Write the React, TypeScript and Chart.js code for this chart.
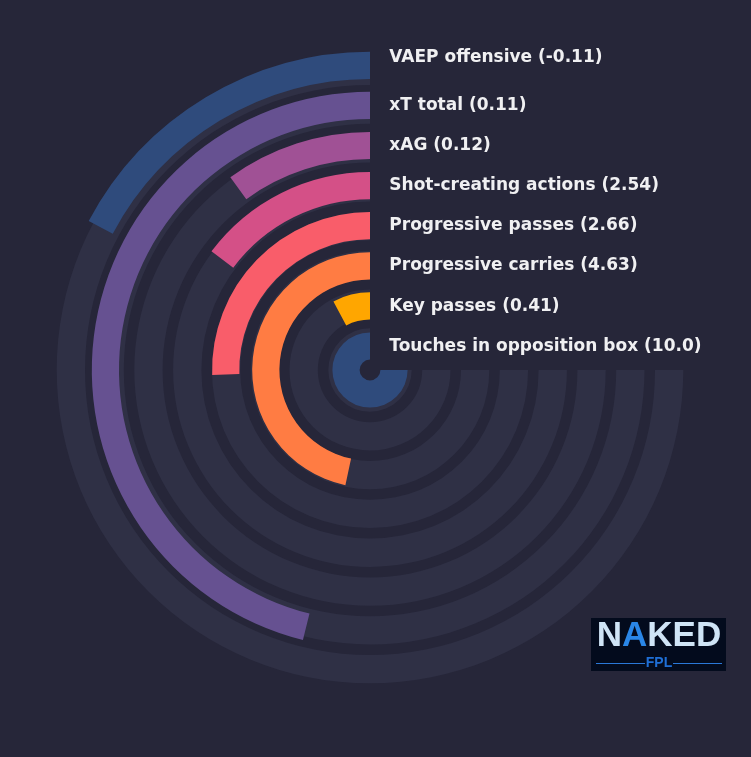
import React, { useEffect, useRef } from "react";
import { Chart, registerables } from "chart.js";

Chart.register(...registerables);

// ---- data ----
const metrics = [
  "VAEP offensive",
  "xT total",
  "xAG",
  "Shot-creating actions",
  "Progressive passes",
  "Progressive carries",
  "Key passes",
  "Touches in opposition box",
];
const rawValues = ["-0.11", "0.11", "0.12", "2.54", "2.66", "4.63", "0.41", "10.0"];
const percentiles = [23, 61.5, 13.3, 19.7, 34, 62.2, 10.4, 100];
const colors = ["#2f4b7c", "#665191", "#a05195", "#d45087", "#f95d6a", "#ff7c43", "#ffa600", "#2f4b7c"];

// ---- styling / geometry ----
const BG = "#262639";
const TRACK = "#2f3045";
const CLEAR = "rgba(0,0,0,0)";
const CANVAS = 700;
const OFFSET = 20; // canvas left/top => centre at 370,370
const TRACK_R = 313.3;
const TRACK_W = 28.3;
const TRACK_GAP = 10.5;
const BAR_R = 318.3;
const BAR_W = 27.2;
const BAR_GAP = 12.9;
const LABEL_SIZE = 17;
const LABEL_COLOR = "#f0f0f2";

const trackInner = TRACK_R - (metrics.length * TRACK_W + (metrics.length - 1) * TRACK_GAP);
const barInner = BAR_R - (metrics.length * BAR_W + (metrics.length - 1) * BAR_GAP);

function buildTrackDatasets() {
  const ds: any[] = [];
  metrics.forEach((_, i) => {
    if (i > 0) ds.push({ data: [1], backgroundColor: [CLEAR], borderWidth: 0, weight: TRACK_GAP });
    ds.push({ data: [1], backgroundColor: [TRACK], borderWidth: 0, weight: TRACK_W });
  });
  return ds;
}

function buildBarDatasets() {
  const ds: any[] = [];
  metrics.forEach((m, i) => {
    if (i > 0) ds.push({ label: "", data: [1], backgroundColor: [CLEAR], borderWidth: 0, weight: BAR_GAP });
    ds.push({
      label: m,
      data: [100 - percentiles[i], percentiles[i]],
      backgroundColor: [CLEAR, colors[i]],
      borderWidth: 0,
      weight: BAR_W,
    });
  });
  return ds;
}

const labelPlugin = {
  id: "ringLabels",
  afterDatasetsDraw(chart: any) {
    const ctx = chart.ctx;
    ctx.save();
    ctx.font = `bold ${LABEL_SIZE}px "DejaVu Sans"`;
    ctx.fillStyle = LABEL_COLOR;
    ctx.textAlign = "left";
    ctx.textBaseline = "alphabetic";
    metrics.forEach((m, i) => {
      const arc = chart.getDatasetMeta(i * 2).data[1];
      const { x, y, innerRadius, outerRadius } = arc.getProps(["x", "y", "innerRadius", "outerRadius"], true);
      const mid = (innerRadius + outerRadius) / 2;
      const capCenter = y - mid - 1.5 + (i === 0 ? -8 : 0);
      ctx.fillText(`${m} (${rawValues[i]})`, x + 19.3, capCenter + (LABEL_SIZE * 0.729) / 2);
    });
    ctx.restore();
  },
};

export default function App() {
  const trackRef = useRef<HTMLCanvasElement>(null);
  const barRef = useRef<HTMLCanvasElement>(null);

  useEffect(() => {
    const common: any = {
      responsive: false,
      animation: false,
      events: [],
      rotation: 90,
      circumference: 270,
      layout: { padding: 0 },
      plugins: { legend: { display: false }, tooltip: { enabled: false } },
    };
    const t = new Chart(trackRef.current as HTMLCanvasElement, {
      type: "doughnut",
      data: { labels: ["track"], datasets: buildTrackDatasets() },
      options: { ...common, radius: TRACK_R, cutout: `${(trackInner / TRACK_R) * 100}%` },
    } as any);
    const b = new Chart(barRef.current as HTMLCanvasElement, {
      type: "doughnut",
      data: { labels: ["rest", "value"], datasets: buildBarDatasets() },
      options: { ...common, radius: BAR_R, cutout: `${(barInner / BAR_R) * 100}%` },
      plugins: [labelPlugin],
    } as any);
    return () => {
      t.destroy();
      b.destroy();
    };
  }, []);

  const canvasStyle: React.CSSProperties = {
    position: "absolute",
    left: OFFSET,
    top: OFFSET,
    width: CANVAS,
    height: CANVAS,
  };

  return (
    <div
      style={{
        position: "absolute",
        left: 0,
        top: 0,
        width: 751,
        height: 757,
        background: BG,
        overflow: "hidden",
        fontFamily: "'DejaVu Sans', sans-serif",
      }}
    >
      <canvas ref={trackRef} width={CANVAS} height={CANVAS} style={canvasStyle} />
      <canvas ref={barRef} width={CANVAS} height={CANVAS} style={canvasStyle} />
      <div
        style={{
          position: "absolute",
          left: 591,
          top: 618,
          width: 135,
          height: 53,
          background: "#030b1d",
        }}
      >
        <div
          style={{
            position: "absolute",
            left: 4,
            top: -4,
            width: 128,
            textAlign: "center",
            fontFamily: "'Liberation Sans', Arial, sans-serif",
            fontWeight: 700,
            fontSize: 35,
            lineHeight: "40px",
            color: "#cfe4f6",
            letterSpacing: 0,
          }}
        >
          N<span style={{ color: "#2a86e6" }}>A</span>KED
        </div>
        <div
          style={{
            position: "absolute",
            left: 5,
            top: 45,
            width: 49,
            height: 1,
            background: "#2a78d8",
          }}
        />
        <div
          style={{
            position: "absolute",
            left: 82,
            top: 45,
            width: 49,
            height: 1,
            background: "#2a78d8",
          }}
        />
        <div
          style={{
            position: "absolute",
            left: 53,
            top: 36,
            width: 30,
            textAlign: "center",
            fontFamily: "'Liberation Sans', Arial, sans-serif",
            fontWeight: 700,
            fontSize: 14,
            lineHeight: "16px",
            color: "#1f6fd6",
          }}
        >
          FPL
        </div>
      </div>
    </div>
  );
}
